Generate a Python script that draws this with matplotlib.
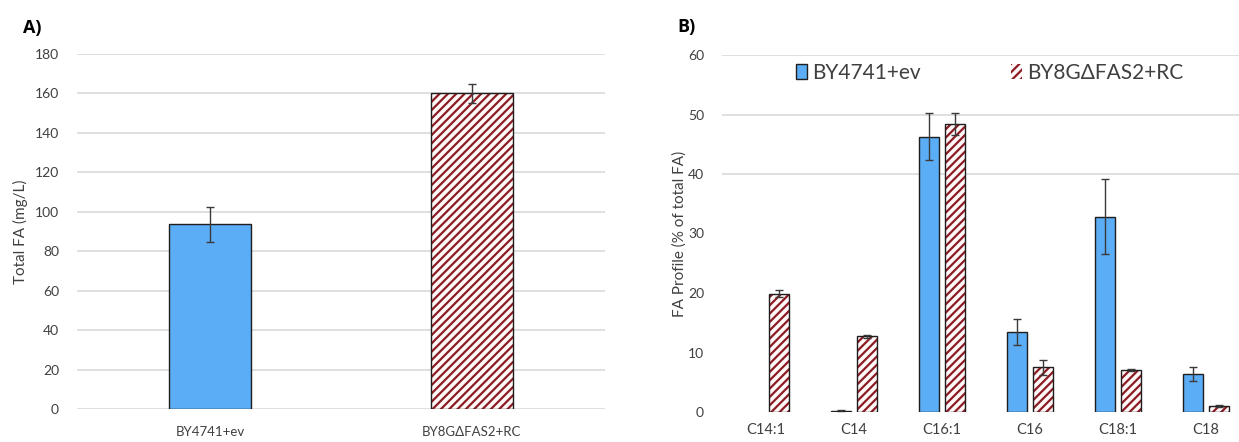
import numpy as np
import matplotlib
matplotlib.use("Agg")
import matplotlib.pyplot as plt
from matplotlib.patches import Patch

plt.rcParams['font.family'] = ['Lato', 'DejaVu Sans']
plt.rcParams['hatch.linewidth'] = 1.6

# ---- data -------------------------------------------------------------
strains = ["BY4741+ev", "BY8GΔFAS2+RC"]
total_fa = [93.7, 160.0]
total_fa_err = [8.8, 5.0]

fatty_acids = ["C14:1", "C14", "C16:1", "C16", "C18:1", "C18"]
wt_profile = [0.0, 0.1, 46.3, 13.4, 32.8, 6.4]
wt_profile_err = [0.0, 0.3, 3.9, 2.2, 6.3, 1.15]
rc_profile = [19.9, 12.7, 48.4, 7.5, 7.1, 1.0]
rc_profile_err = [0.6, 0.3, 1.8, 1.2, 0.15, 0.1]

a_ticks = list(range(0, 181, 20))
b_ticks = list(range(0, 61, 10))
b_grid = [40, 50, 60]

# ---- style ------------------------------------------------------------
BLUE = "#5BADF6"
RED = "#8C1C24"
EDGE = "#1E1E1E"
ERR = "#3A3A3A"
GRID = "#D9D9D9"
TXT = "#404040"
HATCH = "////"


def hatched_bar(ax, x, h, w):
    ax.bar(x, h, w, color="#FFF8F8", edgecolor=RED, hatch=HATCH, linewidth=0, zorder=2)
    ax.bar(x, h, w, fill=False, edgecolor=EDGE, linewidth=1.0, zorder=3)


def plain_bar(ax, x, h, w):
    ax.bar(x, h, w, color=BLUE, edgecolor=EDGE, linewidth=1.0, zorder=2)


fig = plt.figure(figsize=(12.39, 4.42), dpi=100)

# ---- panel A: total fatty acids ---------------------------------------
axA = fig.add_axes([77 / 1239, 33 / 442, 528 / 1239, 355 / 442])
wA = 0.314
xA = np.arange(len(strains))
plain_bar(axA, xA[0], total_fa[0], wA)
hatched_bar(axA, xA[1], total_fa[1], wA)
axA.errorbar(xA, total_fa, yerr=total_fa_err, fmt="none", ecolor=ERR,
             elinewidth=1.0, capsize=3, capthick=1.0, zorder=4)
axA.set_xlim(-0.51, 1.51)
axA.set_ylim(0, 180)
axA.set_yticks(a_ticks)
axA.set_xticks(xA)
axA.set_xticklabels(strains, fontsize=9.5, color=TXT)
axA.yaxis.grid(True, color=GRID, linewidth=1.2, zorder=0)
axA.set_axisbelow(True)
for s in axA.spines.values():
    s.set_visible(False)
axA.tick_params(axis="y", length=0, pad=13, labelsize=10, labelcolor=TXT)
axA.tick_params(axis="x", length=0, pad=12)
axA.set_ylabel("Total FA (mg/L)", fontsize=11, color=TXT, labelpad=5)
fig.text(23 / 1239, 1 - 28 / 442, "A)", fontsize=13, fontweight="bold",
         family=["Open Sans", "DejaVu Sans"], va="center", ha="left")

# ---- panel B: fatty acid profile --------------------------------------
axB = fig.add_axes([722 / 1239, 30 / 442, 528 / 1239, 357 / 442])
wB = 0.227
off = 0.145
xB = np.arange(len(fatty_acids))
for xi, v in zip(xB, wt_profile):
    if v > 0:
        plain_bar(axB, xi - off, v, wB)
for xi, v in zip(xB, rc_profile):
    hatched_bar(axB, xi + off, v, wB)
wt_err_x = [xi - off for xi, e in zip(xB, wt_profile_err) if e > 0]
wt_err_y = [v for v, e in zip(wt_profile, wt_profile_err) if e > 0]
wt_err_e = [e for e in wt_profile_err if e > 0]
axB.errorbar(wt_err_x, wt_err_y, yerr=wt_err_e, fmt="none", ecolor=ERR,
             elinewidth=1.0, capsize=3, capthick=1.0, zorder=4)
axB.errorbar(xB + off, rc_profile, yerr=rc_profile_err, fmt="none", ecolor=ERR,
             elinewidth=1.0, capsize=3, capthick=1.0, zorder=4)
axB.set_xlim(-0.5, 5.5)
axB.set_ylim(0, 60)
axB.set_yticks(b_ticks)
axB.set_xticks(xB)
axB.set_xticklabels(fatty_acids, fontsize=10.5, color=TXT)
for g in b_grid:
    axB.axhline(g, color=GRID, linewidth=1.2, zorder=0)
for s in axB.spines.values():
    s.set_visible(False)
axB.tick_params(axis="y", length=0, pad=13, labelsize=10, labelcolor=TXT)
axB.tick_params(axis="x", length=0, pad=8)
axB.set_ylabel("FA Profile (% of total FA)", fontsize=11, color=TXT, labelpad=1)
fig.text(677 / 1239, 1 - 27 / 442, "B)", fontsize=13, fontweight="bold",
         family=["Open Sans", "DejaVu Sans"], va="center", ha="left")

handles = [
    Patch(facecolor=BLUE, edgecolor=EDGE, linewidth=1.0),
    Patch(facecolor="#FFF8F8", edgecolor=RED, hatch=HATCH, linewidth=0),
]
leg = axB.legend(handles, strains, loc="center", bbox_to_anchor=(0.507, 0.95),
                 ncol=2, frameon=False, fontsize=15, handlelength=0.55,
                 handleheight=0.7, handletextpad=0.25, columnspacing=4.3)
for t in leg.get_texts():
    t.set_color(TXT)

fig.savefig("out.png", dpi=100)
